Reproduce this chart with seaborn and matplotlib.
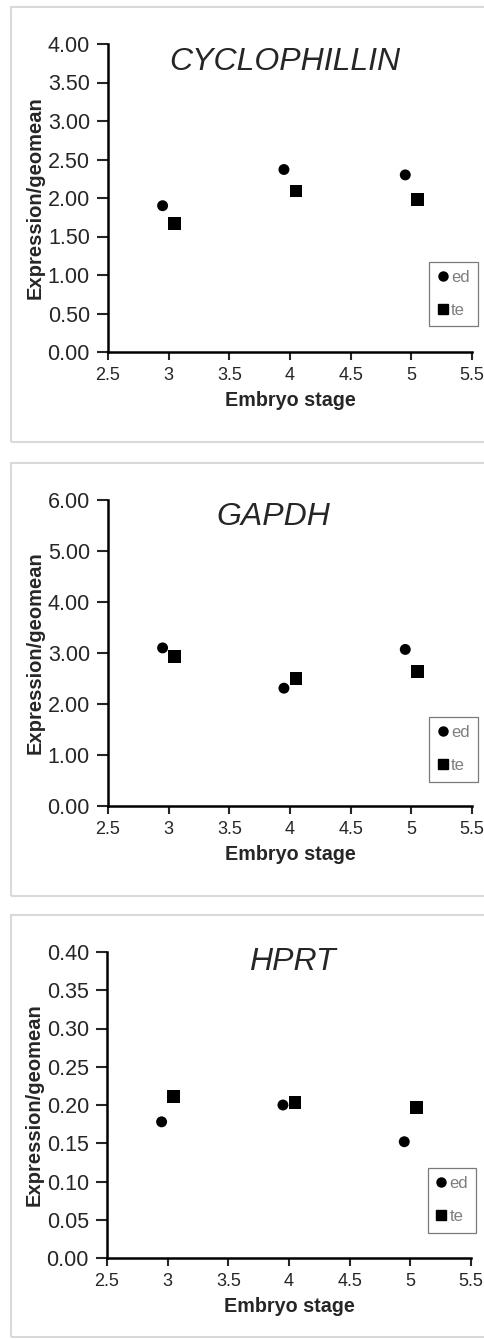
import numpy as np
import pandas as pd
import matplotlib
matplotlib.use("Agg")
import matplotlib.pyplot as plt
import seaborn as sns
from matplotlib.lines import Line2D
from matplotlib.patches import Rectangle

# values
genes = ["CYCLOPHILLIN", "GAPDH", "HPRT"]
stage_ed = [2.95, 3.95, 4.95]
stage_te = [3.05, 4.05, 5.05]
cyclo_ed = [1.90, 2.37, 2.30]
cyclo_te = [1.67, 2.09, 1.98]
gapdh_ed = [3.10, 2.31, 3.07]
gapdh_te = [2.93, 2.50, 2.63]
hprt_ed = [0.178, 0.200, 0.152]
hprt_te = [0.211, 0.203, 0.197]
y_max = [4.0, 6.0, 0.40]
y_step = [0.5, 1.0, 0.05]
x_ticks = [2.5, 3, 3.5, 4, 4.5, 5, 5.5]
x_ticklabels = ["2.5", "3", "3.5", "4", "4.5", "5", "5.5"]

ed_vals = [cyclo_ed, gapdh_ed, hprt_ed]
te_vals = [cyclo_te, gapdh_te, hprt_te]

sns.set_style("ticks")
plt.rcParams["font.family"] = ["Liberation Sans", "DejaVu Sans"]

W, H = 485, 1339
fig = plt.figure(figsize=(W / 100, H / 100), dpi=100)

# pixel boxes: (left, right, top, bottom) of each plot area, and panel frame
axes_px = [(108, 472, 44, 352), (108, 472, 500, 806), (107, 471, 952, 1258)]
frame_px = [(11, 7, 442), (11, 463, 896), (11, 915, 1337)]
title_pos = [(0.485, 0.94), (0.455, 0.945), (0.51, 0.968)]
legend_px = [(428, 261, 479, 327), (428, 716, 479, 782), (427, 1167, 477, 1233)]

for i, gene in enumerate(genes):
    fl, ft, fb = frame_px[i]
    fig.patches.append(Rectangle((fl / W, 1 - fb / H), (W + 5 - fl) / W, (fb - ft) / H,
                                 transform=fig.transFigure, fill=False,
                                 edgecolor="#d9d9d9", linewidth=1.5))

    l, r, t, b = axes_px[i]
    ax = fig.add_axes([l / W, 1 - b / H, (r - l) / W, (b - t) / H])

    df = pd.DataFrame({
        "stage": stage_ed + stage_te,
        "expr": ed_vals[i] + te_vals[i],
        "tissue": ["ed"] * 3 + ["te"] * 3,
    })
    sns.scatterplot(data=df[df.tissue == "ed"], x="stage", y="expr", ax=ax,
                    color="black", marker="o", s=62, edgecolor="none", legend=False)
    sns.scatterplot(data=df[df.tissue == "te"], x="stage", y="expr", ax=ax,
                    color="black", marker="s", s=85, edgecolor="none", legend=False)

    ax.set_xlim(2.5, 5.5)
    ax.set_ylim(0, y_max[i])
    ax.set_xticks(x_ticks)
    ax.set_xticklabels(x_ticklabels, fontsize=13)
    yt = np.arange(0, y_max[i] + y_step[i] / 2, y_step[i])
    ax.set_yticks(yt)
    ax.set_yticklabels([f"{v:.2f}" for v in yt], fontsize=15.5)
    ax.tick_params(axis="y", length=8, width=1.5, pad=5)
    ax.tick_params(axis="x", length=6, width=1.5, pad=5)
    for s in ["left", "bottom"]:
        ax.spines[s].set_linewidth(1.8)
        ax.spines[s].set_color("black")
    sns.despine(ax=ax)
    ax.patch.set_alpha(0)

    ax.set_xlabel("Embryo stage", fontsize=14.2, fontweight="bold", labelpad=5)
    ax.set_ylabel("Expression/geomean", fontsize=14.5, fontweight="bold", labelpad=2)

    ax.text(title_pos[i][0], title_pos[i][1], gene, transform=ax.transAxes,
            ha="center", va="center", fontsize=23, style="italic")

    ll, lt, lr, lb = legend_px[i]
    handles = [Line2D([], [], marker="o", color="black", linestyle="none", markersize=6.5),
               Line2D([], [], marker="s", color="black", linestyle="none", markersize=7.5)]
    leg = fig.legend(handles, ["ed", "te"], loc="center",
                     bbox_to_anchor=((ll + lr) / 2 / W, 1 - (lt + lb) / 2 / H),
                     frameon=True, fancybox=False, fontsize=12,
                     handlelength=0.6, handletextpad=0.2, labelspacing=1.1,
                     borderpad=0.5, labelcolor="#7f7f7f")
    leg.get_frame().set_edgecolor("#595959")
    leg.get_frame().set_linewidth(0.9)

fig.savefig("out.png", dpi=100)
